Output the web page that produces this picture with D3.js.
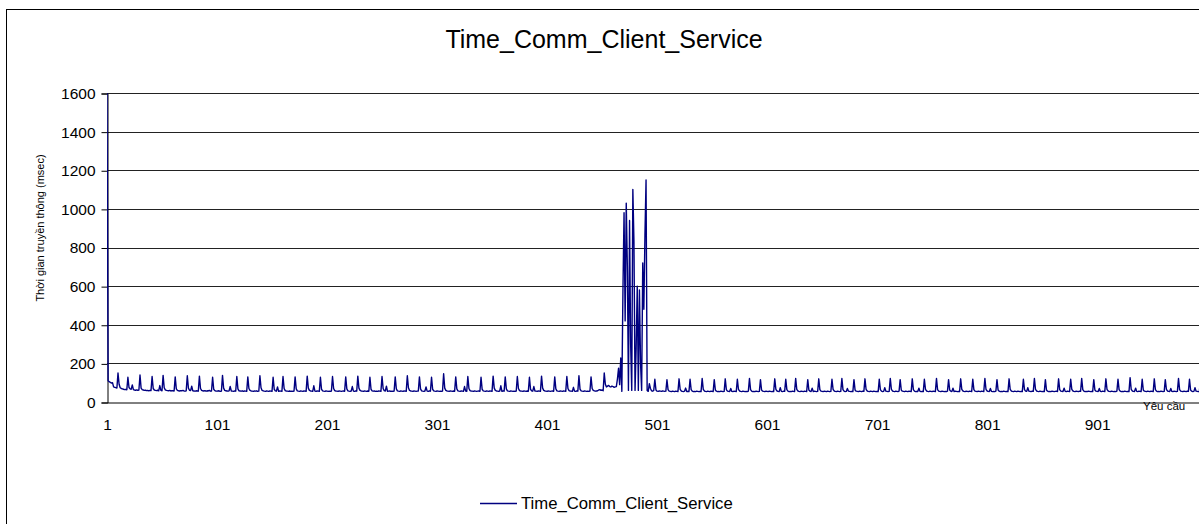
<!DOCTYPE html>
<html>
<head>
<meta charset="utf-8">
<script src="https://cdn.jsdelivr.net/npm/d3@7"></script>
<style>
  html, body { margin: 0; padding: 0; background: #fff; overflow: hidden; }
  svg { display: block; font-family: "Liberation Sans", Arial, sans-serif; }
</style>
</head>
<body>
<svg id="chart" width="1199" height="524"></svg>
<script>
// ---- data ----
const chartTitle = "Time_Comm_Client_Service";
const seriesName = "Time_Comm_Client_Service";
const yAxisTitle = "Thời gian truyền thông (msec)";
const xAxisTitle = "Yêu cầu";
const categoryCount = 1000;
const xTickLabels = ["1","101","201","301","401","501","601","701","801","901"];
const yTickValues = [0,200,400,600,800,1000,1200,1400,1600];

const values = [
1600,110,105,102,98,100,78,76,74,72,
150,92,74,70,68,66,64,65,63,
128,75,68,66,88,64,62,61,63,60,62,
140,72,64,62,60,61,59,60,58,60,59,
132,70,62,60,59,61,58,85,60,58,
138,74,63,60,59,58,60,57,59,58,57,
130,68,60,58,57,59,58,60,57,56,58,
136,72,61,59,82,58,57,56,58,57,56,
134,70,60,58,57,59,56,58,57,60,56,57,
128,66,59,57,56,58,57,55,56,
138,72,60,58,57,56,58,80,57,56,55,57,56,
132,68,58,57,56,58,55,57,56,55,
130,70,60,57,56,55,57,56,58,55,56,
136,74,60,58,56,55,57,56,55,57,56,55,
128,66,58,56,78,55,57,56,55,
132,70,59,57,56,55,57,55,56,55,57,
130,68,58,56,55,57,56,55,57,56,55,
134,72,60,57,56,55,84,56,55,57,56,55,
128,66,58,56,55,57,56,55,56,55,57,
132,70,59,57,56,55,57,56,55,56,57,55,
130,68,58,56,55,57,80,56,55,57,56,
134,72,60,57,56,55,57,56,55,57,55,
128,66,58,56,57,55,56,55,57,56,55,
132,70,59,57,82,55,56,57,55,56,55,57,
130,68,58,56,55,57,56,55,57,56,55,
136,74,60,57,56,55,57,56,55,56,57,
130,68,58,56,55,57,78,56,55,57,56,
128,66,58,56,55,57,56,55,56,55,57,
146,72,60,57,56,55,57,56,55,57,55,
130,68,58,56,55,57,56,55,80,56,55,
132,70,59,57,56,55,57,56,55,56,57,55,
128,66,58,56,55,57,56,55,57,56,55,
134,72,60,57,56,55,57,84,55,57,56,
130,68,58,56,55,57,56,55,56,55,57,
132,70,59,57,56,55,57,56,55,57,55,
128,66,58,56,80,57,56,55,57,56,55,
134,72,60,57,56,55,57,56,55,56,57,55,
130,68,58,56,55,57,56,55,57,56,55,
132,70,59,57,56,55,76,56,55,57,56,
136,66,58,56,55,57,56,55,56,55,57,
130,70,60,58,56,57,58,62,64,60,62,58,
150,92,78,82,86,80,78,82,80,76,78,80,
120,175,90,228,55,580,980,420,1030,700,60,940,300,60,1100,830,60,280,600,60,580,200,60,720,480,865,1150,60,55,95,70,58,56,60,
118,62,56,55,57,56,55,57,56,55,56,
115,64,56,55,54,56,55,54,56,55,54,
120,66,57,55,54,56,72,54,55,54,
118,64,56,54,55,54,56,55,54,55,54,
122,66,57,55,54,56,55,54,56,55,54,
116,62,56,54,55,54,56,55,54,55,
120,64,56,55,54,70,55,54,56,55,54,
118,66,57,55,54,56,55,54,55,54,56,
122,64,56,54,55,54,56,55,54,55,
116,62,56,55,54,56,55,54,56,55,54,55,54,
120,66,57,55,54,74,55,54,56,55,
118,64,56,54,55,54,56,55,54,
122,66,57,55,54,56,55,54,56,55,54,
116,62,56,54,72,54,56,55,54,55,
120,64,56,55,54,56,55,54,56,55,54,55,
118,66,57,55,54,56,55,54,55,
122,64,56,54,55,70,56,55,54,55,54,
116,62,56,55,54,56,55,54,56,55,
120,66,57,55,54,56,55,54,56,55,54,55,54,
118,64,56,54,55,74,56,55,54,55,
122,66,57,55,54,56,55,54,56,
116,62,56,55,54,56,55,54,56,55,54,
120,64,56,54,55,54,72,55,54,55,54,
118,66,57,55,54,56,55,54,56,55,54,
122,64,56,55,54,56,55,54,55,54,56,
116,62,56,54,72,54,56,55,54,55,54,
120,66,57,55,54,56,55,54,56,55,54,
118,64,56,55,54,56,55,54,56,55,54,
122,66,57,55,54,70,55,54,55,54,56,
116,62,56,54,55,54,56,55,54,55,54,
120,66,57,55,54,56,55,54,56,55,54,55,54,
118,64,56,55,74,56,55,54,56,55,
122,66,57,55,54,56,55,54,55,54,
116,62,56,54,55,54,56,55,54,55,56,54,
120,64,56,55,54,72,55,54,56,55,54,
118,66,57,55,54,56,55,54,56,55,
122,64,56,54,55,54,56,55,54,55,54,
116,62,56,55,54,70,55,54,56,55,54,
120,66,57,55,54,56,55,54,55,54,56,
118,64,56,54,55,54,56,55,54,55,54,
126,66,57,55,54,72,55,54,56,55,54,
118,62,56,55,54,56,55,54,56,55,54,
120,64,56,54,55,54,56,55,54,55,
116,66,57,55,54,70,55,54,56,55,54,55,
122,64,56,55,54,56,55,54,56,55,
118,62,56,54,55,74,56,55,54,55,
124,66,57,55,54,56,55,54
];

// ---- layout ----
const svg = d3.select("#chart");
const plot = { left: 107, right: 1206, top: 93, bottom: 402 };
const lineColor = "#000080";

const x = d3.scaleLinear().domain([1, categoryCount]).range([plot.left, plot.right]);
const y = d3.scaleLinear().domain([0, 1600]).range([plot.bottom, plot.top]);

// outer chart border
svg.append("rect")
  .attr("x", 6.5).attr("y", 9.5).attr("width", 1300).attr("height", 700)
  .attr("fill", "#fff").attr("stroke", "#000").attr("stroke-width", 1);

// title
svg.append("text")
  .attr("x", 604).attr("y", 48)
  .attr("text-anchor", "middle")
  .attr("font-size", "25px").attr("fill", "#000")
  .text(chartTitle);

// gridlines
svg.append("g").selectAll("line")
  .data(yTickValues.filter(v => v > 0))
  .join("line")
  .attr("x1", plot.left).attr("x2", plot.right)
  .attr("y1", d => Math.round(y(d)) + 0.5).attr("y2", d => Math.round(y(d)) + 0.5)
  .attr("stroke", "#222").attr("stroke-width", 1);

// y axis
const yAxis = d3.axisLeft(y).tickValues(yTickValues).tickSize(6).tickPadding(6).tickFormat(d3.format("d"));
const gy = svg.append("g")
  .attr("transform", `translate(${plot.left + 0.5},0.5)`)
  .call(yAxis);
gy.select(".domain").attr("stroke", "#000");
gy.selectAll(".tick line").attr("stroke", "#000");
gy.selectAll(".tick text").attr("font-size", "15.5px").attr("fill", "#000")
  .attr("font-family", "'Liberation Sans', Arial, sans-serif");

// x axis (category labels every 100)
const xAxis = d3.axisBottom(x)
  .tickValues(xTickLabels.map(Number))
  .tickSize(0).tickPadding(16)
  .tickFormat((d, i) => xTickLabels[i]);
const gx = svg.append("g")
  .attr("transform", `translate(0,${plot.bottom + 0.5})`)
  .call(xAxis);
gx.select(".domain").attr("stroke", "#000");
gx.selectAll(".tick text").attr("font-size", "15.5px").attr("fill", "#000")
  .attr("font-family", "'Liberation Sans', Arial, sans-serif");

// clip for the series
svg.append("clipPath").attr("id", "clip")
  .append("rect").attr("x", plot.left).attr("y", plot.top - 1)
  .attr("width", plot.right - plot.left).attr("height", plot.bottom - plot.top + 2);

const line = d3.line()
  .x((d, i) => x(i + 1))
  .y(d => y(d));

svg.append("path")
  .datum(values)
  .attr("clip-path", "url(#clip)")
  .attr("fill", "none")
  .attr("stroke", lineColor)
  .attr("stroke-width", 1.4)
  .attr("stroke-linejoin", "round")
  .attr("d", line);

// axis titles
svg.append("text")
  .attr("transform", "translate(44,228) rotate(-90)")
  .attr("text-anchor", "middle")
  .attr("font-size", "11px").attr("fill", "#000")
  .text(yAxisTitle);

svg.append("text")
  .attr("x", 1143).attr("y", 410)
  .attr("font-size", "11.5px").attr("fill", "#000")
  .text(xAxisTitle);

// legend
const lg = svg.append("g");
lg.append("line")
  .attr("x1", 480).attr("x2", 517).attr("y1", 503.5).attr("y2", 503.5)
  .attr("stroke", lineColor).attr("stroke-width", 1.5);
lg.append("text")
  .attr("x", 521).attr("y", 509)
  .attr("font-size", "16.7px").attr("fill", "#000")
  .text(seriesName);
</script>
</body>
</html>
